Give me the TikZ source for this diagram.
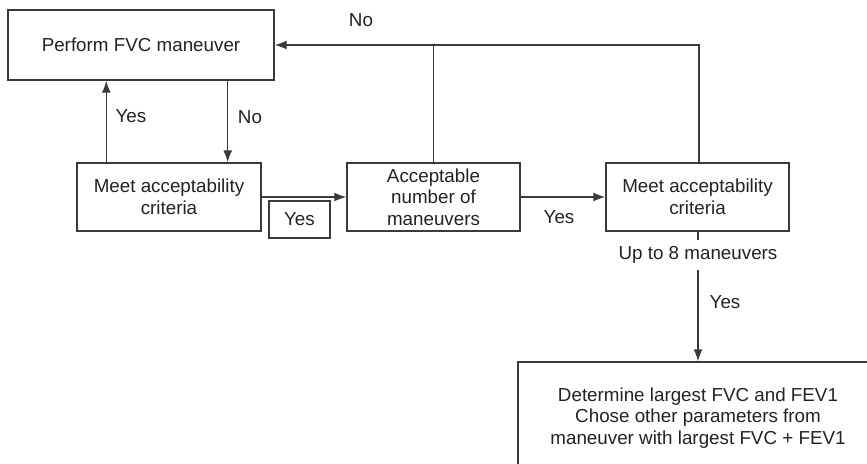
\documentclass[tikz,border=0pt]{standalone}
\usepackage{fontspec}
\setmainfont{Liberation Sans}
\usetikzlibrary{arrows.meta,calc}
\definecolor{ln}{HTML}{3A3A3A}
\definecolor{tx}{HTML}{222222}
\begin{document}
\begin{tikzpicture}[x=1pt,y=-1pt,
  every node/.style={text=tx,font=\fontsize{18.8}{21.7}\selectfont},
  box/.style={draw=ln,line width=1.4pt,inner sep=0pt,align=center},
  lab/.style={anchor=base,inner sep=0pt},
  conn/.style={draw=ln,line width=1.4pt},
  arr/.style={conn,-{Latex[length=12pt,width=9pt]}}]
\useasboundingbox (0,0) rectangle (867,463);
\clip (0,0) rectangle (867,463);
\node[box,minimum width=266pt,minimum height=70pt] (b1) at (141,45) {Perform FVC maneuver};
\node[box,minimum width=184pt,minimum height=68pt] (b2) at (169,197) {Meet acceptability\\criteria};
\node[box,minimum width=173pt,minimum height=68pt] (b3) at (433.5,197) {Acceptable\\number of\\maneuvers};
\node[box,minimum width=183pt,minimum height=68pt] (b4) at (697.5,197) {Meet acceptability\\criteria};
\node[box,minimum width=360pt,minimum height=112pt] (b5) at (698,418) {Determine largest FVC and FEV1\\Chose other parameters from\\maneuver with largest FVC + FEV1};
\node[box,minimum width=61pt,minimum height=37pt] (yb) at (299.5,219.5) {Yes};
\node[inner sep=0pt,minimum height=30pt] (upto) at (698,255) {Up to 8 maneuvers};
% labels
\node[lab] (lno1) at (361,26) {No};
\node[lab] (lyes1) at (131,122.5) {Yes};
\node[lab] (lno2) at (250,123) {No};
\node[lab] (lyes2) at (559,223) {Yes};
\node[lab] (lyes3) at (725,308) {Yes};
% connectors
\draw[arr] ([xshift=30pt]b2.north west) -- ([xshift=30pt]b2.north west |- b1.south);
\draw[arr] ([xshift=-34pt]b2.north east |- b1.south) -- ([xshift=-34pt]b2.north east);
\draw[arr] (b2.east) -- (b3.west);
\draw[arr] (b3.east) -- (b4.west);
\draw[arr] ([xshift=1.5pt]b4.north) |- (b1.east);
\draw[conn] (b3.north) -- (b3.north |- b1.east);
\draw[conn] (b4.south -| upto.north) -- (upto.north);
\draw[arr] (upto.south) -- (b5.north);
\end{tikzpicture}
\end{document}
